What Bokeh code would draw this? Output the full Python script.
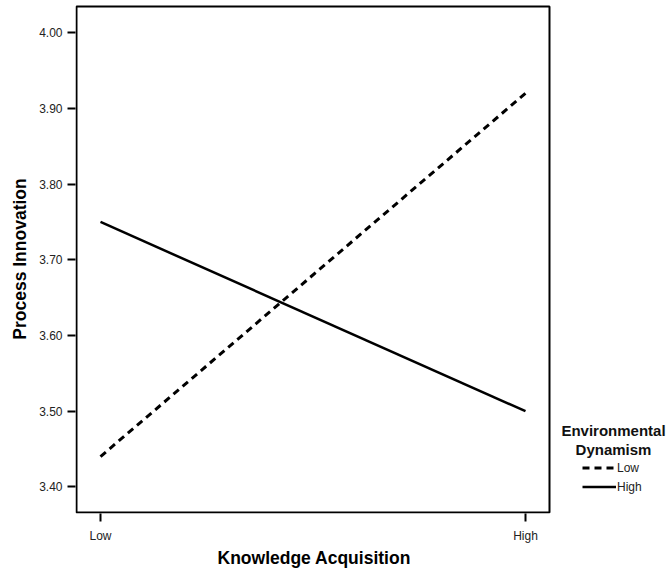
from bokeh.plotting import figure
from bokeh.models import (FixedTicker, NumeralTickFormatter, Range1d, Legend, LegendItem,
                          Label, BoxAnnotation, Title)
from bokeh.embed import file_html
from bokeh.resources import INLINE

# Data
x_levels = ["Low", "High"]           # Knowledge Acquisition
x_pos = [0, 1]
low_dyn = [3.44, 3.92]               # Environmental Dynamism = Low
high_dyn = [3.75, 3.50]              # Environmental Dynamism = High
y_ticks = [3.40, 3.50, 3.60, 3.70, 3.80, 3.90, 4.00]
series_names = ["Low", "High"]
legend_title = ["Environmental", "Dynamism"]

FONT = "Liberation Sans"

# plot box (axes area) in data units; frame extends right to host the legend
BOX_L, BOX_R, BOX_B, BOX_T = -0.05647, 1.05647, 3.36611, 4.03468

p = figure(width=671, height=569, output_backend="svg", toolbar_location=None,
           x_range=Range1d(-0.05882, 1.34353), y_range=Range1d(3.36479, 4.03732),
           min_border_left=75, min_border_right=0, min_border_top=4, min_border_bottom=55)

p.background_fill_color = "white"
p.border_fill_color = "white"
p.outline_line_color = None
p.xgrid.visible = False
p.ygrid.visible = False

p.add_layout(BoxAnnotation(left=BOX_L, right=BOX_R, bottom=BOX_B, top=BOX_T,
                           fill_alpha=0, line_color="black", line_alpha=1, line_width=2))

r_low = p.line(x_pos, low_dyn, line_color="black", line_width=3, line_dash="7 5")
r_high = p.line(x_pos, high_dyn, line_color="black", line_width=2.5)

for ax in (p.xaxis[0], p.yaxis[0]):
    ax.axis_line_color = None
    ax.major_tick_line_color = "black"
    ax.major_tick_line_width = 2
    ax.major_tick_in = 0
    ax.major_tick_out = 8
    ax.minor_tick_line_color = None
    ax.major_label_text_font = FONT
    ax.major_label_text_font_size = "12px"
    ax.major_label_text_color = "#222222"
    ax.axis_label_text_font = FONT
    ax.axis_label_text_font_style = "bold"
    ax.axis_label_text_font_size = "17.5px"
    ax.axis_label_text_color = "black"

p.xaxis.ticker = FixedTicker(ticks=x_pos)
p.xaxis.major_label_overrides = {x: lab for x, lab in zip(x_pos, x_levels)}
p.xaxis.major_label_standoff = 7

p.yaxis.ticker = FixedTicker(ticks=y_ticks)
p.yaxis.formatter = NumeralTickFormatter(format="0.00")
p.yaxis.axis_label = "Process Innovation"
p.yaxis.major_label_standoff = 5
p.yaxis.axis_label_standoff = 6

# x-axis title, aligned under the plot box
p.add_layout(Title(text="Knowledge Acquisition", align="left", offset=142,
                   vertical_align="middle", standoff=2,
                   text_font=FONT, text_font_size="17.5px", text_font_style="bold",
                   text_color="black"), "below")

legend = Legend(items=[LegendItem(label=series_names[0], renderers=[r_low]),
                       LegendItem(label=series_names[1], renderers=[r_high])],
                location=(507, 17), orientation="vertical",
                glyph_width=34, glyph_height=19, label_height=19, spacing=0,
                padding=0, margin=0, label_standoff=1,
                label_text_font=FONT, label_text_font_size="12px", label_text_color="#222222",
                border_line_color=None, background_fill_alpha=0)
p.add_layout(legend, "center")

for txt, yy in zip(legend_title, (3.4743, 3.4493)):
    p.add_layout(Label(x=1.2071, y=yy, text=txt,
                       text_align="center", text_baseline="middle",
                       text_font=FONT, text_font_size="15px", text_font_style="bold",
                       text_color="#111111"))

open("out.html", "w").write(file_html(p, INLINE))
